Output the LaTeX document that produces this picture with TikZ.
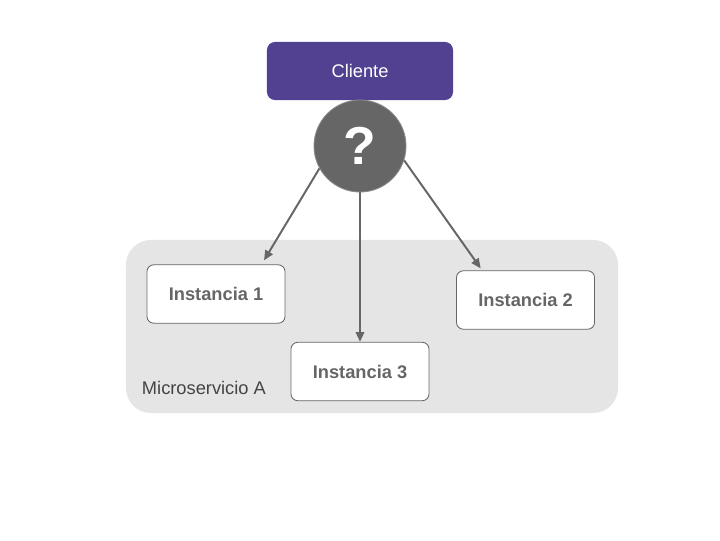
\documentclass[tikz,border=0pt]{standalone}
\usepackage{fontspec}
\setmainfont{Liberation Sans}
\usetikzlibrary{arrows.meta}

\definecolor{clientePurple}{RGB}{82,64,145}
\definecolor{questionGray}{RGB}{102,102,102}
\definecolor{questionRim}{RGB}{140,140,140}
\definecolor{boxGray}{RGB}{102,102,102}
\definecolor{panelGray}{RGB}{229,229,229}
\definecolor{labelGray}{RGB}{68,68,68}

\tikzset{
  instancia/.style={draw=boxGray, line width=0.6pt, fill=white, rounded corners=0.17cm,
    minimum width=3.45cm, minimum height=1.46cm, inner sep=0pt,
    text=boxGray, font=\fontsize{13}{15}\selectfont\bfseries},
  flecha/.style={draw=boxGray, line width=1.4pt, -{Triangle[length=7pt,width=6pt]}}
}

\begin{document}
\begin{tikzpicture}[x=0.025cm, y=-0.025cm]

  \useasboundingbox (0,0) rectangle (720,540);

  % Microservice panel
  \node[fill=panelGray, rounded corners=0.625cm, minimum width=12.3cm,
    minimum height=4.325cm, inner sep=0pt] (panel) at (372,326.5) {};
  \node[anchor=west, text=labelGray, font=\fontsize{13}{15}\selectfont] (panelLabel)
    at (137,388) {Microservicio A};

  % Client
  \node[fill=clientePurple, rounded corners=0.2cm, minimum width=4.65cm,
    minimum height=1.45cm, inner sep=0pt, text=white,
    font=\fontsize{13}{15}\selectfont] (cliente) at (360,71) {Cliente};

  % The question mark
  \node[circle, fill=questionGray, draw=questionRim, line width=0.6pt,
    minimum size=2.3cm, inner sep=0pt, text=white,
    font=\fontsize{38}{40}\selectfont\bfseries] (pregunta) at (360,146) {?};

  % Instances
  \node[instancia] (inst1) at (216,294) {Instancia 1};
  \node[instancia] (inst2) at (525.5,300) {Instancia 2};
  \node[instancia] (inst3) at (360,371.5) {Instancia 3};

  % Arrows
  \draw[flecha] (pregunta.209) -- ([xshift=1.2cm, yshift=0.1cm]inst1.north);
  \draw[flecha] (pregunta.south) -- (inst3.north);
  \draw[flecha] (pregunta.342) -- ([xshift=-1.12cm, yshift=0.05cm]inst2.north);

\end{tikzpicture}
\end{document}
